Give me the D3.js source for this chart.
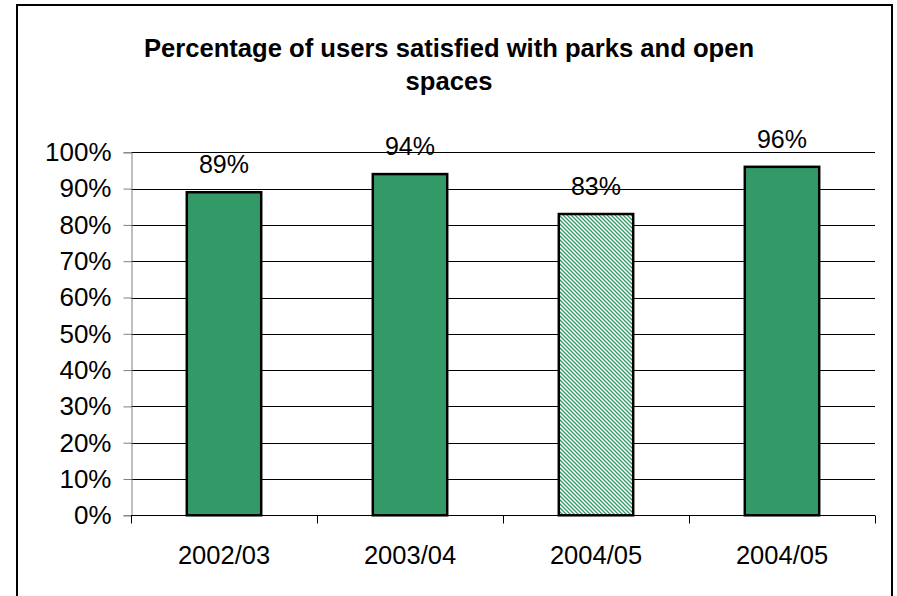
<!DOCTYPE html>
<html>
<head>
<meta charset="utf-8">
<script src="https://cdn.jsdelivr.net/npm/d3@7"></script>
<style>
  html, body { margin: 0; padding: 0; background: #fff; }
  svg { display: block; font-family: "Liberation Sans", Arial, sans-serif; }
</style>
</head>
<body>
<svg id="chart" width="897" height="596"></svg>
<script>
// Survey results: share of users satisfied with parks and open spaces
const categories = ["2002/03", "2003/04", "2004/05", "2004/05"];
const values = [89, 94, 83, 96];
const hatched = [false, false, true, false];
const yTicks = [0, 10, 20, 30, 40, 50, 60, 70, 80, 90, 100];
const titleLines = ["Percentage of users satisfied with parks and open", "spaces"];

const svg = d3.select("#chart");
const plot = { left: 131, right: 875, top: 152.3, bottom: 515.3 };
const green = "#339966";

// Diagonal hatch used for the highlighted bar
const defs = svg.append("defs");
const pat = defs.append("pattern")
  .attr("id", "hatch")
  .attr("patternUnits", "userSpaceOnUse")
  .attr("width", 4).attr("height", 4);
pat.append("rect").attr("width", 4).attr("height", 4).attr("fill", "#fff");
pat.append("path")
  .attr("d", "M-1,-1 L5,5 M-1,3 L1,5 M3,-1 L5,1")
  .attr("stroke", green).attr("stroke-width", 1.3);

// Frame around the whole chart
svg.append("rect")
  .attr("x", 17).attr("y", 5)
  .attr("width", 875).attr("height", 600)
  .attr("fill", "none").attr("stroke", "#000").attr("stroke-width", 2);

// Title
svg.append("text")
  .attr("x", 449).attr("y", 57)
  .attr("text-anchor", "middle")
  .style("font-size", "25.6px").style("font-weight", "bold")
  .selectAll("tspan").data(titleLines).join("tspan")
  .attr("x", 449).attr("dy", (d, i) => i === 0 ? 0 : 33)
  .text(d => d);

const x = d3.scaleBand()
  .domain(categories.map((d, i) => i))
  .range([plot.left, plot.right])
  .paddingInner(0.6).paddingOuter(0.3);

const y = d3.scaleLinear().domain([0, 100]).range([plot.bottom, plot.top]);

// Horizontal gridlines
svg.append("g")
  .selectAll("line").data(yTicks.filter(t => t > 0)).join("line")
  .attr("x1", plot.left).attr("x2", plot.right)
  .attr("y1", d => Math.round(y(d)) + 0.5).attr("y2", d => Math.round(y(d)) + 0.5)
  .attr("stroke", "#000").attr("stroke-width", 1);

// Y axis
const yAxis = svg.append("g")
  .attr("transform", `translate(${plot.left + 0.5},0)`)
  .call(d3.axisLeft(y).tickValues(yTicks).tickFormat(d => d + "%").tickSizeOuter(0).tickSize(8).tickPadding(12));
yAxis.select(".domain").attr("stroke", "#808080");
yAxis.selectAll(".tick line").attr("stroke", "#808080");
yAxis.selectAll(".tick text")
  .attr("fill", "#000").style("font-size", "26px").style("font-family", "Liberation Sans, Arial, sans-serif");

// Bars
svg.append("g")
  .selectAll("rect").data(values).join("rect")
  .attr("x", (d, i) => x(i))
  .attr("width", x.bandwidth())
  .attr("y", d => y(d))
  .attr("height", d => y(0) - y(d))
  .attr("fill", (d, i) => hatched[i] ? "url(#hatch)" : green)
  .attr("stroke", "#000").attr("stroke-width", 2.5);

// Value labels
svg.append("g")
  .selectAll("text").data(values).join("text")
  .attr("x", (d, i) => x(i) + x.bandwidth() / 2)
  .attr("y", d => y(d) - 19)
  .attr("text-anchor", "middle")
  .style("font-size", "25px")
  .text(d => d + "%");

// X axis with ticks between categories
const xStep = (plot.right - plot.left) / categories.length;
const xg = svg.append("g").attr("transform", `translate(0,${Math.round(plot.bottom) + 0.5})`);
xg.append("line")
  .attr("x1", plot.left).attr("x2", plot.right)
  .attr("stroke", "#000");
xg.selectAll("line.tk").data(d3.range(categories.length + 1)).join("line")
  .attr("class", "tk")
  .attr("x1", i => Math.round(plot.left + i * xStep) + 0.5)
  .attr("x2", i => Math.round(plot.left + i * xStep) + 0.5)
  .attr("y1", 0).attr("y2", 8)
  .attr("stroke", "#000");
xg.selectAll("text").data(categories).join("text")
  .attr("x", (d, i) => x(i) + x.bandwidth() / 2)
  .attr("y", 48)
  .attr("text-anchor", "middle")
  .style("font-size", "25.5px")
  .text(d => d);
</script>
</body>
</html>
